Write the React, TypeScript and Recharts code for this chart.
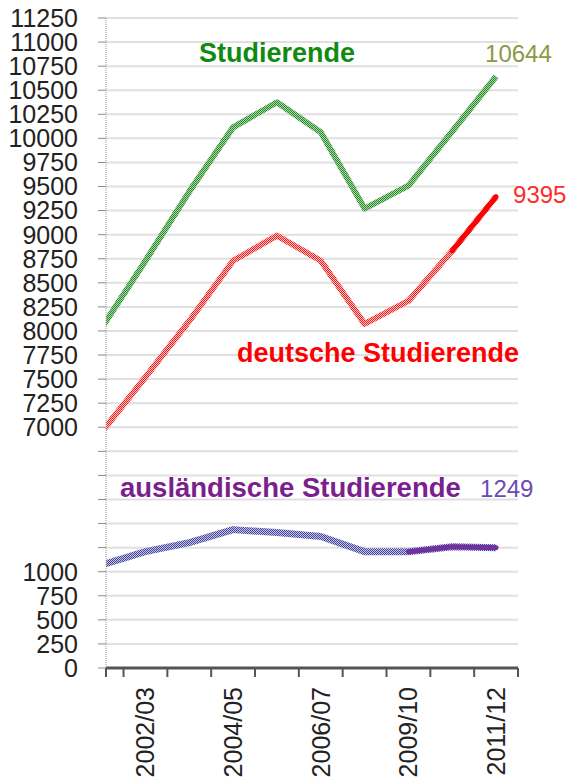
import { LineChart, Line, XAxis, YAxis, CartesianGrid, ReferenceDot } from "recharts";

// Semester (one point per winter semester)
const periods = ["2001/02", "2002/03", "2003/04", "2004/05", "2005/06", "2006/07", "2007/08", "2009/10", "2010/11", "2011/12"];
const shownPeriods = ["2002/03", "2004/05", "2006/07", "2009/10", "2011/12"];

// Studierende gesamt, deutsche, ausländische
const studierende = [8030, 8729, 9448, 10115, 10375, 10063, 9271, 9510, 10073, 10644];
const deutsche = [6950, 7521, 8104, 8729, 8990, 8729, 8073, 8312, 8833, 9395];
const auslaendische = [1070, 1208, 1302, 1437, 1406, 1365, 1208, 1208, 1260, 1249];

// y axis is broken: 0..1000 below, 7000..11250 above
const lowerTicks = [0, 250, 500, 750, 1000];
const gapTicks = [1250, 1500, 1750, 2000, 2250];
const upperTicks = [7000, 7250, 7500, 7750, 8000, 8250, 8500, 8750, 9000, 9250, 9500, 9750, 10000, 10250, 10500, 10750, 11000, 11250];

const BREAK_AT = 2500;
const BREAK_SHIFT = 4500;
const toDisplay = (v: number) => (v >= BREAK_AT ? v - BREAK_SHIFT : v);

const yTicks = [...lowerTicks, ...gapTicks, ...upperTicks.map(toDisplay)];
const formatY = (d: number) => {
  if (gapTicks.includes(d)) return "";
  return String(d >= BREAK_AT ? d + BREAK_SHIFT : d);
};

const last = periods.length - 1;
const rows = periods.map((p, i) => ({
  i,
  period: p,
  stud: toDisplay(studierende[i]),
  deu: toDisplay(deutsche[i]),
  deuEnd: i >= 8 ? toDisplay(deutsche[i]) : null,
  aus: toDisplay(auslaendische[i]),
  ausEnd: i >= 7 ? toDisplay(auslaendische[i]) : null,
}));

const xTicks = [0.1, 0.5, 1, 1.5, 2, 2.5, 3, 3.5, 4, 4.5, 5, 5.5, 6, 6.5, 7, 7.5, 8, 8.5, 9, 9.5];

const FONT = "'Liberation Sans', Arial, sans-serif";

function PeriodTick(props: any) {
  const { x, y, payload } = props;
  const v = payload.value;
  if (Number.isInteger(v)) {
    const label = periods[v];
    if (!shownPeriods.includes(label)) return <g />;
    const ax = x + 9;
    const ay = y + 19;
    return (
      <text x={ax} y={ay} transform={`rotate(-90, ${ax}, ${ay})`} textAnchor="end" fontSize={25} fontFamily={FONT} fill="#222">
        {label}
      </text>
    );
  }
  return <line x1={x} y1={y} x2={x} y2={y + 9} stroke="#555" strokeWidth={2} />;
}

const valueLabel = (text: string, dx: number, dy: number, fill: string) => (p: any) => {
  const vb = p.viewBox || {};
  const cx = (vb.x || 0) + (vb.width || 0) / 2;
  const cy = (vb.y || 0) + (vb.height || 0) / 2;
  return (
    <text x={cx + dx} y={cy + dy} fontSize={24} fontFamily={FONT} fill={fill}>
      {text}
    </text>
  );
};

function checker(id: string, dot: string, base: string) {
  return (
    <pattern id={id} width={2} height={2} patternUnits="userSpaceOnUse">
      <rect width={2} height={2} fill={base} />
      <rect width={1} height={1} fill={dot} />
      <rect x={1} y={1} width={1} height={1} fill={dot} />
    </pattern>
  );
}

export default function App() {
  return (
    <div style={{ position: "absolute", left: 0, top: 0 }}>
      <LineChart width={571} height={784} data={rows} margin={{ top: 18, right: 53, bottom: 0, left: 0 }}>
        <defs>
          {checker("chkGreen", "#2a882a", "#a9d8a9")}
          {checker("chkRed", "#ff1a1a", "#ffc8c8")}
          {checker("chkPurple", "#44449a", "#c6c6e6")}
        </defs>

        <CartesianGrid vertical={false} stroke="#e0e0e0" strokeWidth={2} />

        <XAxis
          type="number"
          dataKey="i"
          domain={[0.1, 9.5]}
          allowDataOverflow
          ticks={xTicks}
          interval={0}
          height={116}
          tickSize={0}
          tickMargin={0}
          tickLine={false}
          axisLine={{ stroke: "#555", strokeWidth: 3 }}
          tick={<PeriodTick />}
        />

        <YAxis
          type="number"
          domain={[0, toDisplay(11250)]}
          ticks={yTicks}
          interval={0}
          width={106}
          tickSize={8}
          tickMargin={20}
          tickFormatter={formatY}
          axisLine={{ stroke: "#999", strokeDasharray: "1 1" }}
          tickLine={{ stroke: "#8a8a8a" }}
          tick={{ fontSize: 25, fill: "#222", fontFamily: FONT }}
        />

        <Line dataKey="stud" stroke="url(#chkGreen)" strokeWidth={6} dot={false} isAnimationActive={false} strokeLinejoin="round" />
        <Line dataKey="deu" stroke="url(#chkRed)" strokeWidth={6} dot={false} isAnimationActive={false} strokeLinejoin="round" />
        <Line dataKey="deuEnd" stroke="#ff0000" strokeWidth={5} dot={false} isAnimationActive={false} strokeLinecap="round" />
        <Line dataKey="aus" stroke="url(#chkPurple)" strokeWidth={7} dot={false} isAnimationActive={false} strokeLinejoin="round" />
        <Line dataKey="ausEnd" stroke="#7030a0" strokeWidth={5} dot={false} isAnimationActive={false} strokeLinecap="round" />

        <ReferenceDot x={last} y={toDisplay(studierende[last])} r={0} fill="none" stroke="none"
          label={{ content: valueLabel(String(studierende[last]), -11, -14, "#8c9a45") }} />
        <ReferenceDot x={last} y={toDisplay(deutsche[last])} r={0} fill="none" stroke="none"
          label={{ content: valueLabel(String(deutsche[last]), 17, 6, "#ff2b2b") }} />
        <ReferenceDot x={last} y={toDisplay(auslaendische[last])} r={0} fill="none" stroke="none"
          label={{ content: valueLabel(String(auslaendische[last]), -16, -51, "#6a4cb0") }} />

        <text x={199} y={62} fontSize={27} fontWeight="bold" fontFamily={FONT} fill="#108a10">Studierende</text>
        <text x={519} y={362} textAnchor="end" fontSize={27} fontWeight="bold" fontFamily={FONT} fill="#ff0000">deutsche Studierende</text>
        <text x={120} y={497} fontSize={27.5} fontWeight="bold" fontFamily={FONT} fill="#7b1e8e">ausländische Studierende</text>
      </LineChart>
    </div>
  );
}
